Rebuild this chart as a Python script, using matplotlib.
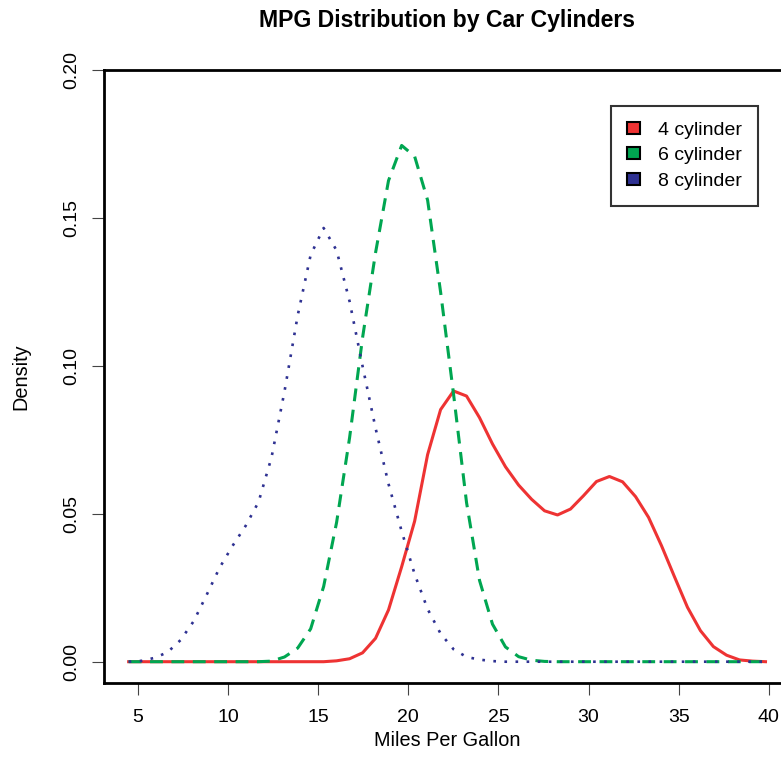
import matplotlib
matplotlib.use("Agg")
import matplotlib.pyplot as plt
from matplotlib.patches import Patch

plt.rcParams['font.family'] = ['Liberation Sans', 'DejaVu Sans']

# grid of mpg values (50 points)
mpg = [4.48, 5.20, 5.92, 6.64, 7.36, 8.09, 8.81, 9.53, 10.25, 10.97,
       11.69, 12.41, 13.13, 13.86, 14.58, 15.30, 16.02, 16.74, 17.46, 18.18,
       18.90, 19.63, 20.35, 21.07, 21.79, 22.51, 23.23, 23.95, 24.67, 25.39,
       26.12, 26.84, 27.56, 28.28, 29.00, 29.72, 30.44, 31.16, 31.89, 32.61,
       33.33, 34.05, 34.77, 35.49, 36.21, 36.93, 37.66, 38.38, 39.10, 39.82]

# densita 4 cilindri
dens_4 = [0, 0, 0, 0, 0, 0, 0, 0, 0, 0,
          0, 0, 0, 0, 0, 0, 0.0003, 0.0010, 0.0030, 0.0079,
          0.0175, 0.0321, 0.0475, 0.0700, 0.0852, 0.0915, 0.0898, 0.0825, 0.0736, 0.0659,
          0.0597, 0.0549, 0.0510, 0.0496, 0.0516, 0.0561, 0.0609, 0.0626, 0.0608, 0.0558,
          0.0488, 0.0392, 0.0287, 0.0184, 0.0105, 0.0051, 0.0022, 0.0006, 0.0002, 0.0]

# 6 cilindri
dens_6 = [0, 0, 0, 0, 0, 0, 0, 0, 0, 0,
          0, 0.0002, 0.0016, 0.0046, 0.0111, 0.0254, 0.0471, 0.0757, 0.1095, 0.1382,
          0.1626, 0.1745, 0.1708, 0.1560, 0.1250, 0.0904, 0.0538, 0.0275, 0.0127, 0.0050,
          0.0017, 0.0005, 0.0001, 0, 0, 0, 0, 0, 0, 0,
          0, 0, 0, 0, 0, 0, 0, 0, 0, 0]

# 8 cilindri
dens_8 = [0.0, 0.0003, 0.0013, 0.0032, 0.0073, 0.0137, 0.0226, 0.0318, 0.0392, 0.0459,
          0.0540, 0.0691, 0.0914, 0.1170, 0.1375, 0.1466, 0.1390, 0.1218, 0.0999, 0.0790,
          0.0601, 0.0441, 0.0296, 0.0178, 0.0095, 0.0042, 0.0016, 0.0007, 0.0002, 0,
          0, 0, 0, 0, 0, 0, 0, 0, 0, 0,
          0, 0, 0, 0, 0, 0, 0, 0, 0, 0]

labels = ['4 cylinder', '6 cylinder', '8 cylinder']
colors = ['#EE3333', '#00A651', '#2E3192']
x_ticks = [5, 10, 15, 20, 25, 30, 35, 40]
y_ticks = [0.00, 0.05, 0.10, 0.15, 0.20]

W, H = 781, 777
fig = plt.figure(figsize=(W / 100, H / 100), dpi=100)
ax = fig.add_axes([103.6 / W, (H - 683.3) / H, (790.9 - 103.6) / W, (683.3 - 70) / H])

ax.plot(mpg, dens_4, color=colors[0], lw=2.2, solid_joinstyle='round')
ax.plot(mpg, dens_6, color=colors[1], lw=2.2, dashes=(4.2, 2.8))
ax.plot(mpg, dens_8, color=colors[2], lw=1.9, dashes=(1, 3.2))

ax.set_xlim(3.09, 41.23)
ax.set_ylim(-0.0073, 0.20)

ax.set_xticks(x_ticks)
ax.set_xticklabels([str(v) for v in x_ticks])
ax.set_yticks(y_ticks)
ax.set_yticklabels(['%.2f' % v for v in y_ticks], rotation=90, va='center')
ax.tick_params(direction='out', length=8.6, width=0.8, color='#444444',
               labelsize=14, labelcolor='black')
ax.tick_params(axis='x', pad=10)
ax.tick_params(axis='y', pad=8.5)

for s in ax.spines.values():
    s.set_linewidth(2.0)
    s.set_color('black')

ax.set_xlabel('Miles Per Gallon', fontsize=14.3)
ax.xaxis.label.set_va('center')
ax.xaxis.set_label_coords(0.5, -(741 - 683.3) / 613.3)
ax.set_ylabel('Density', fontsize=14.3)
ax.yaxis.label.set_va('center')
ax.yaxis.set_label_coords(-(103.6 - 21) / 687.3, 0.5)

fig.text(447 / W, 1 - 20 / H, 'MPG Distribution by Car Cylinders',
         ha='center', va='center', fontsize=16.6, fontweight='bold')

handles = [Patch(facecolor=c, edgecolor='black', linewidth=1.5) for c in colors]
leg = ax.legend(handles, labels, loc='upper left',
                bbox_to_anchor=(611 / W, 1 - 106 / H), bbox_transform=fig.transFigure,
                fontsize=14, frameon=True, fancybox=False, borderaxespad=0,
                handlelength=0.68, handleheight=0.58, handletextpad=0.95,
                labelspacing=0.45, borderpad=0.8)
leg.get_frame().set_edgecolor('black')
leg.get_frame().set_linewidth(1.5)

fig.savefig('out.png', dpi=100)
